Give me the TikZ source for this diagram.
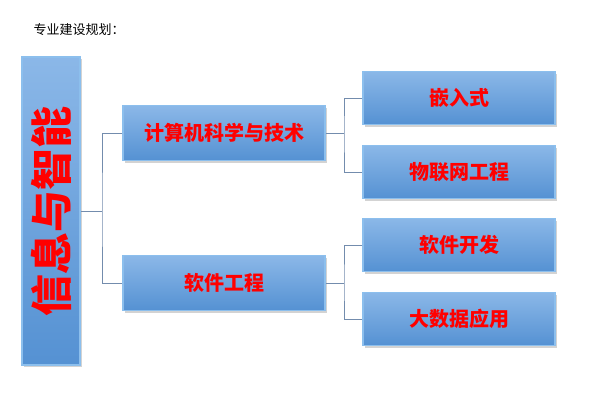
\documentclass[tikz,border=0pt]{standalone}
\usepackage{fontspec}
\newfontfamily\cjk{Noto Sans CJK SC}
\usepackage{xcolor}
\definecolor{boxblue}{rgb}{0.35, 0.6, 0.87}
\definecolor{boxedge}{rgb}{0.55, 0.75, 0.93}
\definecolor{linegray}{rgb}{0.45, 0.55, 0.68}
\usetikzlibrary{shadows}
\tikzset{
	blockbox/.style = {draw = boxedge, line width = 1.5pt, rectangle, top color = boxblue!70, bottom color = boxblue!95!black, drop shadow = {opacity = 0.35}, inner sep = 0pt, font = \cjk\fontsize{20}{20}\selectfont\bfseries, text = red},
	treeline/.style = {draw = linegray, line width = 0.8pt}
}
\begin{document}
\begin{tikzpicture}[x=1pt, y=-1pt]
	\useasboundingbox (0,0) rectangle (600,400);
	\node[anchor = west, font = \cjk\fontsize{13}{13}\selectfont] (title) at (30,30) {专业建设规划：};
	
	\node[blockbox, minimum width = 58pt, minimum height = 308pt] (root) at (51,211) {};
	\node[rotate = 90, text = red, font = \cjk\fontsize{42}{42}\selectfont\bfseries] (rootlbl) at (root.center) {信息与智能};
	
	\node[blockbox, minimum width = 202pt, minimum height = 55pt] (cs) at (224,133) {计算机科学与技术};
	\node[blockbox, minimum width = 202pt, minimum height = 55pt] (se) at (224,283) {软件工程};
	
	\node[blockbox, minimum width = 192pt, minimum height = 53pt] (emb) at (459,98) {嵌入式};
	\node[blockbox, minimum width = 192pt, minimum height = 53pt] (iot) at (459,172) {物联网工程};
	\node[blockbox, minimum width = 192pt, minimum height = 53pt] (dev) at (459,245) {软件开发};
	\node[blockbox, minimum width = 192pt, minimum height = 53pt] (big) at (459,319) {大数据应用};
	
	\coordinate (j1) at (102,211);
	\coordinate (j2) at (344,133);
	\coordinate (j3) at (344,283);
	
	\draw[treeline] (root.east) -- (j1);
	\draw[treeline] (cs.west) -| (j1) |- (se.west);
	\draw[treeline] (cs.east) -- (j2);
	\draw[treeline] (emb.west) -| (j2) |- (iot.west);
	\draw[treeline] (se.east) -- (j3);
	\draw[treeline] (dev.west) -| (j3) |- (big.west);
\end{tikzpicture}
\end{document}
